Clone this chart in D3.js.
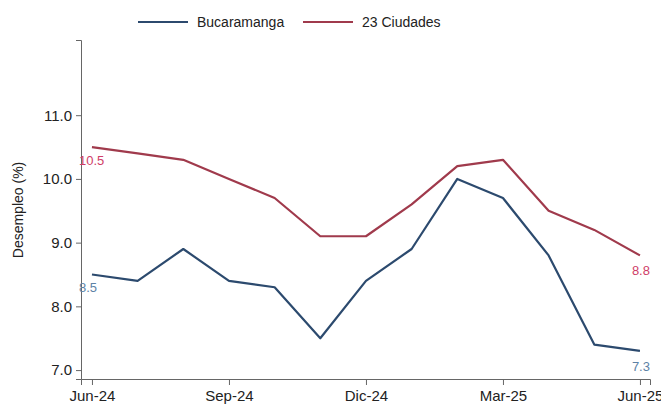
<!DOCTYPE html>
<html>
<head>
<meta charset="utf-8">
<script src="https://cdn.jsdelivr.net/npm/d3@7"></script>
<style>
    body { margin: 0; background: #fff; }
    svg { display: block; font-family: "Liberation Sans", Arial, sans-serif; }
    .axis path, .axis line { stroke: #666; }
    .axis text { fill: #222; font-size: 15px; }
</style>
</head>
<body>
<div id="chart"></div>
<script>
// months on the x axis
var months = ["Jun-24", "Jul-24", "Ago-24", "Sep-24", "Oct-24", "Nov-24", "Dic-24",
              "Ene-25", "Feb-25", "Mar-25", "Abr-25", "May-25", "Jun-25"];
var bucaramanga = [8.5, 8.4, 8.9, 8.4, 8.3, 7.5, 8.4, 8.9, 10.0, 9.7, 8.8, 7.4, 7.3];
var ciudades23 = [10.5, 10.4, 10.3, 10.0, 9.7, 9.1, 9.1, 9.6, 10.2, 10.3, 9.5, 9.2, 8.8];
var seriesNames = ["Bucaramanga", "23 Ciudades"];
var yTicks = [7, 8, 9, 10, 11];
var xTickIdx = [0, 3, 6, 9, 12];

var width = 661, height = 406;
var colors = {"Bucaramanga": "#2c4a6e", "23 Ciudades": "#a03a4c"};
var labelColors = {"Bucaramanga": "#5d82a6", "23 Ciudades": "#cf3d68"};

var svg = d3.select("#chart").append("svg")
    .attr("width", width)
    .attr("height", height);

// set the ranges
var x = d3.scaleLinear()
    .domain([-0.24, 12.22])
    .range([81, 650]);
var y = d3.scaleLinear()
    .domain([6.86, 12.18])
    .range([379, 40]);

// add the y axis
svg.append("g")
    .attr("class", "axis")
    .attr("transform", "translate(81,0)")
    .call(d3.axisLeft(y).tickValues(yTicks).tickSizeOuter(0).tickSize(5).tickPadding(4)
        .tickFormat(d3.format(".1f")));

// add the x axis
svg.append("g")
    .attr("class", "axis")
    .attr("transform", "translate(0,379)")
    .call(d3.axisBottom(x).tickValues(xTickIdx).tickSizeOuter(0).tickSize(6).tickPadding(5)
        .tickFormat(function(i) { return months[i]; }));

svg.append("text")
    .attr("transform", "translate(23,210) rotate(-90)")
    .attr("text-anchor", "middle")
    .attr("font-size", 14)
    .attr("fill", "#222")
    .text("Desempleo (%)");

var series = [
    {name: "Bucaramanga", values: bucaramanga},
    {name: "23 Ciudades", values: ciudades23}
];

var line = d3.line()
    .x(function(d, i) { return x(i); })
    .y(function(d) { return y(d); });

svg.selectAll(".line")
    .data(series)
    .enter().append("path")
    .attr("class", "line")
    .attr("fill", "none")
    .attr("stroke", function(d) { return colors[d.name]; })
    .attr("stroke-width", 2.2)
    .attr("stroke-linejoin", "round")
    .attr("d", function(d) { return line(d.values); });

// first and last value labels
var labels = [];
series.forEach(function(s) {
    labels.push({name: s.name, i: 0, v: s.values[0], dx: -13, dy: 18, anchor: "start"});
    var n = s.values.length - 1;
    labels.push({name: s.name, i: n, v: s.values[n], dx: 10, dy: 20, anchor: "end"});
});

svg.selectAll(".vlabel")
    .data(labels)
    .enter().append("text")
    .attr("class", "vlabel")
    .attr("x", function(d) { return x(d.i) + d.dx; })
    .attr("y", function(d) { return y(d.v) + d.dy; })
    .attr("text-anchor", function(d) { return d.anchor; })
    .attr("font-size", 13)
    .attr("fill", function(d) { return labelColors[d.name]; })
    .text(function(d) { return d3.format(".1f")(d.v); });

// legend
var legendX = [138, 303];
var legend = svg.selectAll(".legend")
    .data(seriesNames)
    .enter().append("g")
    .attr("class", "legend")
    .attr("transform", function(d, i) { return "translate(" + legendX[i] + ",22)"; });

legend.append("line")
    .attr("x1", 0).attr("x2", 50)
    .attr("stroke", function(d) { return colors[d]; })
    .attr("stroke-width", 2.2);

legend.append("text")
    .attr("x", 59)
    .attr("dy", "0.35em")
    .attr("font-size", 14)
    .attr("fill", "#222")
    .text(function(d) { return d; });
</script>
</body>
</html>
